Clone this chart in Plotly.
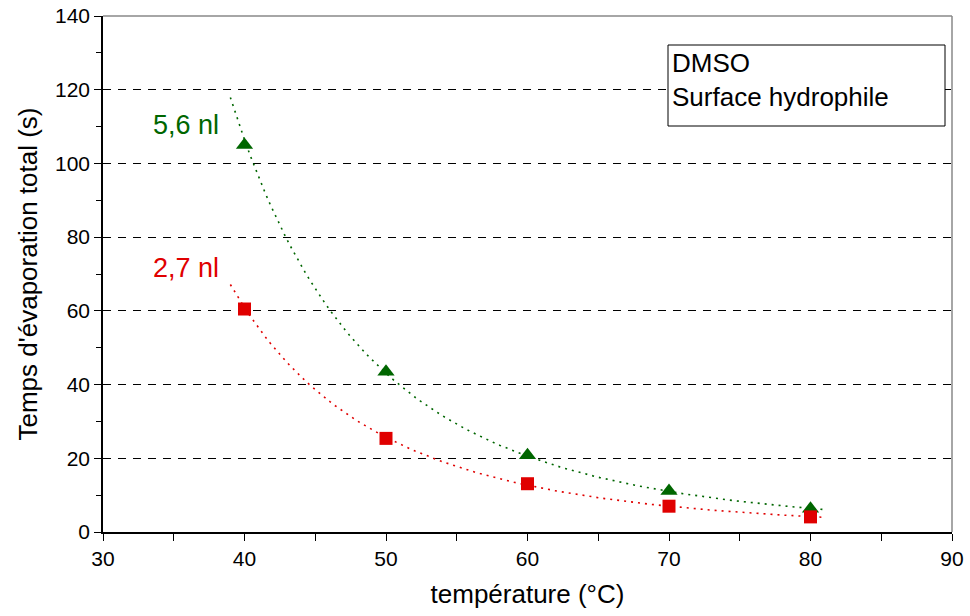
import numpy as np
import plotly.graph_objects as go

temperature = [40, 50, 60, 70, 80]
vol_56 = [105, 43.5, 20.8, 11.1, 6.3]
vol_27 = [60.5, 25.4, 13.1, 7.0, 4.1]
x_ticks = [30, 40, 50, 60, 70, 80, 90]
y_ticks = [0, 20, 40, 60, 80, 100, 120, 140]

GREEN = "#006600"
RED = "#e00000"
FONT = "Liberation Sans, Arial, sans-serif"

W, H = 970, 616
L, R, T, B = 103, 18, 16, 84
PW, PH = W - L - R, H - T - B


def power_fit(x, y, x0=39, x1=81):
    lx, ly = np.log(x), np.log(y)
    b, a = np.polyfit(lx, ly, 1)
    xs = np.linspace(x0, x1, 120)
    return xs, np.exp(a) * xs ** b


fig = go.Figure()
for ys, col, sym, size in [(vol_56, GREEN, "triangle-up", 15), (vol_27, RED, "square", 13)]:
    fx, fy = power_fit(temperature, ys)
    fig.add_trace(go.Scatter(x=fx, y=fy, mode="lines",
                             line=dict(color=col, width=1.6, dash="2px,5px"),
                             showlegend=False, hoverinfo="skip"))
    fig.add_trace(go.Scatter(x=temperature, y=ys, mode="markers",
                             marker=dict(symbol=sym, size=size, color=col),
                             showlegend=False))

fig.add_annotation(x=35.9, y=110.5, text="5,6 nl", showarrow=False, xanchor="center",
                   font=dict(color=GREEN, size=27, family=FONT))
fig.add_annotation(x=35.9, y=71.5, text="2,7 nl", showarrow=False, xanchor="center",
                   font=dict(color=RED, size=27, family=FONT))


def px(xp):
    return (xp - L) / PW


def py(yp):
    return (H - B - yp) / PH


fig.add_shape(type="rect", xref="paper", yref="paper",
              x0=px(668), x1=px(945), y0=py(126), y1=py(45),
              line=dict(color="black", width=1), fillcolor="white", layer="above")
fig.add_annotation(xref="paper", yref="paper", x=px(670), y=py(46),
                   xanchor="left", yanchor="top", align="left", showarrow=False,
                   text="DMSO<br>Surface hydrophile",
                   font=dict(size=26, family=FONT, color="black"))

# top and right gray border
fig.add_shape(type="line", xref="paper", yref="paper", x0=0, x1=1, y0=1, y1=1,
              line=dict(color="#888888", width=1.5), layer="above")
fig.add_shape(type="line", xref="paper", yref="paper", x0=1, x1=1, y0=0, y1=1,
              line=dict(color="#888888", width=1.5), layer="above")

fig.update_layout(
    width=W, height=H,
    margin=dict(l=L, r=R, t=T, b=B, autoexpand=False),
    paper_bgcolor="white", plot_bgcolor="white",
    font=dict(family=FONT, size=21, color="black"),
    xaxis=dict(range=[30, 90], tickvals=x_ticks, showgrid=False, zeroline=False,
               automargin=False,
               showline=True, linecolor="black", linewidth=1.5,
               ticks="outside", ticklen=7, tickwidth=1, tickcolor="black",
               minor=dict(dtick=5, ticks="outside", ticklen=7, tickcolor="black", showgrid=False),
               tickfont=dict(size=21), ticklabeloverflow="allow",
               title=dict(text="température (°C)", font=dict(size=26), standoff=16)),
    yaxis=dict(range=[0, 140], tickvals=y_ticks, showgrid=True, gridcolor="black",
               gridwidth=1, griddash="8px,7px", zeroline=False,
               automargin=False,
               showline=True, linecolor="black", linewidth=1.5,
               ticks="outside", ticklen=7, tickwidth=1, tickcolor="black",
               minor=dict(dtick=10, ticks="outside", ticklen=5, tickcolor="black", showgrid=False),
               tickfont=dict(size=21), ticklabeloverflow="allow",
               title=dict(text="Temps d'évaporation total (s)", font=dict(size=26), standoff=10)),
)

fig.write_html("out.html", config={"displayModeBar": False},
               post_script="document.body.style.margin='0';document.body.style.overflow='hidden';")
